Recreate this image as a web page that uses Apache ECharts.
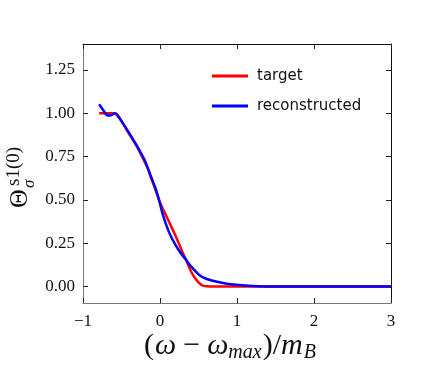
<!DOCTYPE html>
<html>
<head>
<meta charset="utf-8">
<script src="https://cdn.jsdelivr.net/npm/echarts@6/dist/echarts.min.js"></script>
<style>
  html, body { margin: 0; padding: 0; background: #fff; }
  #chart { width: 435px; height: 369px; }
</style>
</head>
<body>
<div id="chart"></div>
<script>
// values
const xTicks = [-1, 0, 1, 2, 3];
const yTicks = [0, 0.25, 0.5, 0.75, 1.0, 1.25];

const targetX = [-0.79, -0.7, -0.62, -0.585, -0.55, -0.5, -0.45, -0.42, -0.35, -0.29, -0.2, -0.16, -0.12, -0.074, -0.03, 0, 0.05, 0.1, 0.15, 0.2, 0.25, 0.3, 0.338, 0.4, 0.45, 0.5, 0.55, 0.6, 0.7, 0.8, 1, 1.5, 2, 3];
const targetY = [1.0, 1.0, 1.0, 1.0, 0.99, 0.955, 0.918, 0.894, 0.845, 0.80, 0.72, 0.683, 0.632, 0.577, 0.522, 0.485, 0.437, 0.39, 0.343, 0.294, 0.243, 0.19, 0.154, 0.09, 0.052, 0.024, 0.007, 0.002, 0, 0, 0, 0, 0, 0];

const reconX = [-0.79, -0.74, -0.68, -0.63, -0.585, -0.55, -0.5, -0.42, -0.35, -0.29, -0.2, -0.117, -0.05, 0, 0.034, 0.1, 0.164, 0.25, 0.338, 0.4, 0.51, 0.6, 0.727, 0.85, 0.99, 1.15, 1.29, 1.5, 2, 3];
const reconY = [1.052, 1.02, 0.987, 0.99, 1.0, 0.985, 0.955, 0.9, 0.85, 0.805, 0.73, 0.635, 0.556, 0.478, 0.42, 0.333, 0.27, 0.205, 0.154, 0.118, 0.067, 0.045, 0.029, 0.018, 0.01, 0.004, 0.0015, 0.0005, 0, 0];

const zip = (xs, ys) => xs.map((x, i) => [x, ys[i]]);
const fmt = (v, d) => (v < 0 ? '\u2212' : '') + Math.abs(v).toFixed(d);

const serif = "'Liberation Serif', serif";
const measureCtx = document.createElement('canvas').getContext('2d');
const textW = (t, font) => { measureCtx.font = font; return measureCtx.measureText(t).width; };

// x axis title pieces: (ω − ω_max)/m_B, placed one after another
const titlePieces = [
  { t: '(', font: '30px ' + serif, sub: false, pad: 0 },
  { t: 'ω', font: 'italic 30px ' + serif, sub: false, pad: 1 },
  { t: '−', font: '30px ' + serif, sub: false, pad: 7 },
  { t: 'ω', font: 'italic 30px ' + serif, sub: false, pad: 7 },
  { t: 'max', font: 'italic 20px ' + serif, sub: true, pad: 0 },
  { t: ')/', font: '30px ' + serif, sub: false, pad: 1 },
  { t: 'm', font: 'italic 30px ' + serif, sub: false, pad: 0 },
  { t: 'B', font: 'italic 20px ' + serif, sub: true, pad: 1 }
];
const titleCenter = 230, titleBottom = 361;
let total = 0;
titlePieces.forEach(p => { p.w = textW(p.t, p.font); total += p.pad + p.w; });
let cx = titleCenter - total / 2;
const titleEls = titlePieces.map(p => {
  cx += p.pad;
  const el = {
    type: 'text', x: cx, y: p.sub ? titleBottom + 2 : titleBottom,
    style: { text: p.t, font: p.font, fill: '#111', align: 'left', verticalAlign: 'bottom' }
  };
  cx += p.w;
  return el;
});

const chart = echarts.init(document.getElementById('chart'), null, { renderer: 'canvas' });

const tickStyle = { inside: true, length: 5, lineStyle: { color: '#222', width: 1 } };

chart.setOption({
  animation: false,
  backgroundColor: '#fff',
  grid: { left: 83, right: 44, top: 44, bottom: 66 },
  legend: {
    orient: 'vertical',
    left: 207,
    top: 62,
    icon: 'rect',
    itemWidth: 36,
    itemHeight: 3,
    itemGap: 12,
    textStyle: { fontFamily: 'DejaVu Sans', fontSize: 15, color: '#111', lineHeight: 18, padding: [0, 0, 0, 4] },
    data: ['target', 'reconstructed']
  },
  xAxis: [
    {
      type: 'value', position: 'bottom', min: -1, max: 3, interval: 1,
      splitLine: { show: false },
      axisLine: { show: true, onZero: false, lineStyle: { color: '#777', width: 1 } },
      axisTick: tickStyle,
      axisLabel: { margin: 10, color: '#111', fontFamily: serif, fontSize: 17, formatter: v => fmt(v, 0) }
    },
    {
      type: 'value', position: 'top', min: -1, max: 3, interval: 1,
      splitLine: { show: false },
      axisLine: { show: true, onZero: false, lineStyle: { color: '#111', width: 1 } },
      axisTick: tickStyle,
      axisLabel: { show: false }
    }
  ],
  yAxis: [
    {
      type: 'value', position: 'left', min: -0.095, max: 1.4,
      splitLine: { show: false },
      axisLine: { show: true, onZero: false, lineStyle: { color: '#777', width: 1 } },
      axisTick: Object.assign({ customValues: yTicks }, tickStyle),
      axisLabel: { margin: 8, color: '#111', fontFamily: serif, fontSize: 17, customValues: yTicks, formatter: v => fmt(v, 2) }
    },
    {
      type: 'value', position: 'right', min: -0.095, max: 1.4,
      splitLine: { show: false },
      axisLine: { show: true, onZero: false, lineStyle: { color: '#111', width: 1 } },
      axisTick: Object.assign({ customValues: yTicks }, tickStyle),
      axisLabel: { show: false }
    }
  ],
  series: [
    {
      name: 'target', type: 'line', data: zip(targetX, targetY),
      showSymbol: false, smooth: 0.25, clip: true,
      lineStyle: { color: '#ff0000', width: 2.5 }, itemStyle: { color: '#ff0000' }
    },
    {
      name: 'reconstructed', type: 'line', data: zip(reconX, reconY),
      showSymbol: false, smooth: 0.25, clip: true,
      lineStyle: { color: '#0000ff', width: 2.5 }, itemStyle: { color: '#0000ff' }
    }
  ],
  graphic: [
    {
      // y axis title, rotated: local x runs upward, local y runs to the right
      type: 'group', x: 0, y: 208, rotation: Math.PI / 2,
      children: [
        { type: 'text', x: 0, y: 33, style: { text: 'Θ', font: '26px ' + serif, fill: '#111', verticalAlign: 'bottom' } },
        { type: 'text', x: 20, y: 38, style: { text: 'σ', font: 'italic 17px ' + serif, fill: '#111', verticalAlign: 'bottom' } },
        { type: 'text', x: 22, y: 24, style: { text: 's1(0)', font: '19px ' + serif, fill: '#111', verticalAlign: 'bottom' } }
      ]
    },
    { type: 'group', children: titleEls }
  ]
});
</script>
</body>
</html>
